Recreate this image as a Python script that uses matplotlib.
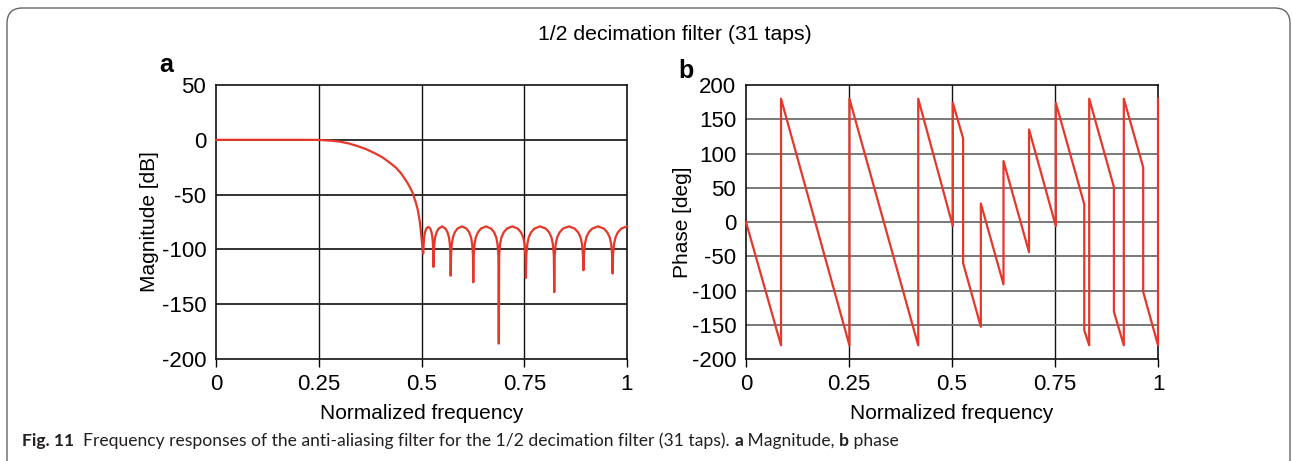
import numpy as np
import matplotlib
matplotlib.use("Agg")
import matplotlib.pyplot as plt
from matplotlib.patches import FancyBboxPatch

# ── data ─────────────────────────────────────────────────────────────────────
# magnitude: passband + transition band (freq, dB)
pass_f  = [0.0, 0.10, 0.20, 0.25, 0.28, 0.30, 0.324, 0.345, 0.365, 0.385, 0.405,
           0.425, 0.438, 0.450, 0.462, 0.470, 0.478, 0.486, 0.491, 0.496, 0.4995, 0.502]
pass_db = [0.0, 0.0, 0.0, -0.1, -0.8, -1.6, -3.4, -5.8, -8.5, -12.0, -16.0,
           -21.5, -25.5, -30.5, -37.0, -42.0, -48.0, -57.0, -64.0, -75.0, -87.0, -97.0]

# stopband nulls (freq, depth dB)
null_f  = [0.504, 0.529, 0.571, 0.626, 0.688, 0.754, 0.823, 0.894, 0.965]
null_db = [-104, -116, -124, -130, -186, -126, -139, -119, -122]

# stopband lobes between nulls (freq, dB), peaks about -79 dB
lobe_f = [
    [0.5044, 0.5053, 0.5065, 0.5085, 0.5115, 0.5165, 0.5215, 0.5245, 0.5265, 0.5278, 0.5286],
    [0.5296, 0.5311, 0.5332, 0.5366, 0.5416, 0.5500, 0.5584, 0.5634, 0.5668, 0.5689, 0.5704],
    [0.5718, 0.5738, 0.5765, 0.5809, 0.5875, 0.5985, 0.6095, 0.6161, 0.6205, 0.6233, 0.6252],
    [0.6269, 0.6291, 0.6322, 0.6372, 0.6446, 0.6570, 0.6694, 0.6768, 0.6818, 0.6849, 0.6871],
    [0.6890, 0.6913, 0.6946, 0.6999, 0.7078, 0.7210, 0.7342, 0.7421, 0.7474, 0.7507, 0.7530],
    [0.7550, 0.7575, 0.7609, 0.7664, 0.7747, 0.7885, 0.8023, 0.8106, 0.8161, 0.8196, 0.8220],
    [0.8241, 0.8266, 0.8301, 0.8358, 0.8443, 0.8585, 0.8727, 0.8812, 0.8869, 0.8905, 0.8929],
    [0.8951, 0.8976, 0.9011, 0.9068, 0.9153, 0.9295, 0.9437, 0.9522, 0.9579, 0.9615, 0.9639],
    [0.9660, 0.9685, 0.9720, 0.9776, 0.9860, 1.0000],
]
lobe_db = [
    [-102.0, -95.0, -89.0, -84.5, -81.0, -79.5, -81.0, -84.5, -89.0, -95.0, -105.5],
    [-105.5, -95.0, -89.0, -84.5, -81.0, -79.0, -81.0, -84.5, -89.0, -95.0, -105.5],
    [-105.5, -95.0, -89.0, -84.5, -81.0, -79.0, -81.0, -84.5, -89.0, -95.0, -105.5],
    [-105.5, -95.0, -89.0, -84.5, -81.0, -79.0, -81.0, -84.5, -89.0, -95.0, -105.5],
    [-105.5, -95.0, -89.0, -84.5, -81.0, -79.0, -81.0, -84.5, -89.0, -95.0, -105.5],
    [-105.5, -95.0, -89.0, -84.5, -81.0, -79.0, -81.0, -84.5, -89.0, -95.0, -105.5],
    [-105.5, -95.0, -89.0, -84.5, -81.0, -79.0, -81.0, -84.5, -89.0, -95.0, -105.5],
    [-105.5, -95.0, -89.0, -84.5, -81.0, -79.0, -81.0, -84.5, -89.0, -95.0, -105.5],
    [-105.5, -95.0, -89.0, -84.5, -81.0, -79.0],
]

# phase: vertices of the wrapped phase (freq, deg)
phase_f   = [0.0, 0.085, 0.085, 0.251, 0.251, 0.418, 0.418, 0.502, 0.502, 0.527, 0.527,
             0.570, 0.570, 0.625, 0.625, 0.687, 0.687, 0.752, 0.752, 0.821, 0.821,
             0.833, 0.833, 0.893, 0.893, 0.917, 0.917, 0.964, 0.964, 1.0, 1.0]
phase_deg = [0, -180, 180, -180, 180, -180, 180, -6, 174, 122, -60,
             -153, 27, -91, 89, -44, 135, -6, 174, 26, -158,
             -180, 180, 51, -131, -180, 180, 80, -102, -180, 180]

x_ticks      = [0, 0.25, 0.5, 0.75, 1]
x_ticklabels = ["0", "0.25", "0.5", "0.75", "1"]
mag_ticks    = [50, 0, -50, -100, -150, -200]
phase_ticks  = [200, 150, 100, 50, 0, -50, -100, -150, -200]

title   = "1/2 decimation filter (31 taps)"
caption = [("Fig. 11", "bold"),
           ("  Frequency responses of the anti-aliasing filter for the 1/2 decimation filter (31 taps). ", "normal"),
           ("a", "bold"), (" Magnitude, ", "normal"), ("b", "bold"), (" phase", "normal")]

# assemble the magnitude curve in frequency order
mag_f, mag_db = list(pass_f), list(pass_db)
for nf, nd, lf, ld in zip(null_f, null_db, lobe_f, lobe_db):
    mag_f += [nf] + lf
    mag_db += [nd] + ld

RED = "#e5372a"
W, H = 1292, 461
plt.rcParams["font.family"] = ["Liberation Sans", "DejaVu Sans"]
plt.rcParams["axes.unicode_minus"] = False

fig = plt.figure(figsize=(W / 100, H / 100), dpi=100)

# rounded frame around the whole figure (bottom edge runs off the image)
frame = FancyBboxPatch((7 / W, -20 / H), 1283 / W, (453 + 20) / H,
                       boxstyle="round,pad=0,rounding_size=0.012",
                       transform=fig.transFigure, fill=False,
                       edgecolor="#666666", lw=1.0, mutation_aspect=W / H)
fig.patches.append(frame)


def px_axes(x0, x1, y0, y1):
    return fig.add_axes([x0 / W, 1 - y1 / H, (x1 - x0) / W, (y1 - y0) / H])


def style(ax, yticks, hgrid_color):
    ax.set_xlim(0, 1)
    ax.set_ylim(yticks[-1], yticks[0])
    ax.set_xticks(x_ticks)
    ax.set_xticklabels(x_ticklabels)
    ax.set_yticks(yticks)
    ax.tick_params(axis="x", direction="out", length=6, width=1.0, labelsize=16, pad=5)
    ax.tick_params(axis="y", length=0, labelsize=16, pad=7)
    for v in x_ticks[1:-1]:
        ax.axvline(v, color="#111111", lw=1.0, zorder=1)
    for v in yticks[1:-1]:
        ax.axhline(v, color=hgrid_color, lw=1.3, zorder=1)
    for s in ax.spines.values():
        s.set_color("#111111")
        s.set_linewidth(1.2)
    ax.set_xlabel("Normalized frequency", fontsize=15, labelpad=6)


ax1 = px_axes(216, 627, 85, 359)
style(ax1, mag_ticks, "#222222")
ax1.plot(mag_f, mag_db, color=RED, lw=1.6, zorder=3, clip_on=False)
ax1.set_ylabel("Magnitude [dB]", fontsize=15, labelpad=2)

ax2 = px_axes(746, 1158, 85, 359)
style(ax2, phase_ticks, "#6e6e6e")
ax2.plot(phase_f, phase_deg, color=RED, lw=1.6, zorder=3, clip_on=False)
ax2.set_ylabel("Phase [deg]", fontsize=15, labelpad=0)

fig.text(166 / W, 1 - 65 / H, "a", fontsize=18, fontweight="bold", ha="center", va="center")
fig.text(686 / W, 1 - 71 / H, "b", fontsize=18, fontweight="bold", ha="center", va="center")
fig.text(675 / W, 1 - 35 / H, title, fontsize=15.3, ha="center", va="center")

# caption with mixed bold / regular runs
renderer = fig.canvas.get_renderer()
x = 22.0
for txt, weight in caption:
    t = fig.text(x / W, 1 - 441 / H, txt, fontsize=12.6, fontweight=weight,
                 family=["Lato", "DejaVu Sans"], color="#231f20", ha="left", va="center")
    x = t.get_window_extent(renderer).x1

fig.savefig("out.png", dpi=100)
